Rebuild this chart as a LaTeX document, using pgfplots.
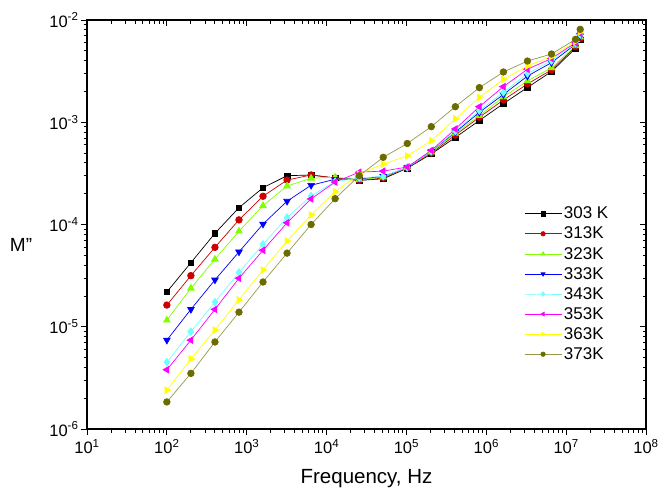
\documentclass[border=0pt]{standalone}
\usepackage{pgfplots}
\usepackage{pgfplotstable}
\pgfplotsset{compat=1.18}
\usetikzlibrary{calc}
\usepackage{fontspec}
\setmainfont{Liberation Sans}

\definecolor{cRed}{HTML}{CC0000}
\definecolor{cLime}{HTML}{80FF00}
\definecolor{cBlue}{HTML}{0000FF}
\definecolor{cCyan}{HTML}{6FFFFF}
\definecolor{cMag}{HTML}{FF00FF}
\definecolor{cYel}{HTML}{FFFF00}
\definecolor{cOlive}{HTML}{6B6B00}

% M'' vs frequency
\pgfplotstableread{
f        T303    T313    T323    T333    T343    T353    T363    T373
100      2.19e-5 1.63e-5 1.16e-5 7.4e-6  4.5e-6  3.8e-6  2.4e-6  1.84e-6
200      4.23e-5 3.16e-5 2.38e-5 1.48e-5 8.95e-6 7.4e-6  4.84e-6 3.5e-6
400      8.2e-5  5.98e-5 4.57e-5 2.87e-5 1.74e-5 1.48e-5 9.3e-6  7.1e-6
800      1.46e-4 1.11e-4 8.6e-5  5.4e-5  3.4e-5  2.98e-5 1.83e-5 1.39e-5
1600     2.29e-4 1.89e-4 1.53e-4 1.01e-4 6.4e-5  5.6e-5  3.6e-5  2.74e-5
3200     3.0e-4  2.72e-4 2.38e-4 1.69e-4 1.17e-4 1.04e-4 6.9e-5  5.25e-5
6400     3.05e-4 3.05e-4 2.83e-4 2.42e-4 1.9e-4  1.78e-4 1.24e-4 1.0e-4
12800    2.85e-4 2.85e-4 2.9e-4  2.77e-4 2.63e-4 2.6e-4  2.09e-4 1.79e-4
25600    2.7e-4  2.7e-4  2.75e-4 2.8e-4  2.85e-4 3.25e-4 3.1e-4  3.0e-4
51200    2.8e-4  2.85e-4 2.9e-4  2.95e-4 2.96e-4 3.33e-4 3.9e-4  4.54e-4
102400   3.55e-4 3.58e-4 3.6e-4  3.6e-4  3.62e-4 3.65e-4 4.68e-4 6.2e-4
204800   4.9e-4  5.0e-4  5.1e-4  5.2e-4  5.2e-4  5.3e-4  6.6e-4  9.06e-4
409600   7.1e-4  7.5e-4  7.8e-4  8.0e-4  8.2e-4  8.6e-4  1.08e-3 1.42e-3
819200   1.04e-3 1.12e-3 1.16e-3 1.25e-3 1.3e-3  1.42e-3 1.75e-3 2.18e-3
1638400  1.52e-3 1.65e-3 1.77e-3 1.87e-3 1.96e-3 2.23e-3 2.63e-3 3.1e-3
3276800  2.19e-3 2.37e-3 2.54e-3 2.83e-3 3.0e-3  3.3e-3  3.55e-3 3.97e-3
6553600  3.13e-3 3.25e-3 3.4e-3  3.83e-3 4.0e-3  4.2e-3  4.4e-3  4.65e-3
13107200 5.3e-3  5.48e-3 5.6e-3  5.8e-3  5.9e-3  6.0e-3  6.2e-3  6.47e-3
15000000 6.4e-3  6.6e-3  6.8e-3  7.0e-3  7.2e-3  7.4e-3  7.7e-3  8.1e-3
}\mdata

\begin{document}
\begin{tikzpicture}
\begin{axis}[name=ax,
    scale only axis, width=559pt, height=409pt,
    xmode=log, ymode=log,
    xmin=1e1, xmax=1e8, ymin=1e-6, ymax=1e-2,
    axis line style={line width=1.1pt},
    major tick length=6pt, minor tick length=3.5pt,
    tick style={black, line width=0.9pt},
    tick align=outside, xtick pos=bottom, ytick pos=left,
    xtick={1e1,1e2,1e3,1e4,1e5,1e6,1e7,1e8},
    xticklabels={10\textsuperscript{1},10\textsuperscript{2},10\textsuperscript{3},10\textsuperscript{4},10\textsuperscript{5},10\textsuperscript{6},10\textsuperscript{7},10\textsuperscript{8}},
    ytick={1e-6,1e-5,1e-4,1e-3,1e-2},
    yticklabels={10\textsuperscript{-6},10\textsuperscript{-5},10\textsuperscript{-4},10\textsuperscript{-3},10\textsuperscript{-2}},
    tick label style={font=\fontsize{16.5}{18}\selectfont},
    xticklabel style={yshift=-1pt},
    yticklabel style={xshift=1pt},
    xlabel={Frequency, Hz},
    xlabel style={font=\fontsize{20.5}{24}\selectfont, at={(axis description cs:0.5,-0.12)}, anchor=center},
    ylabel={M''},
    ylabel style={font=\fontsize{19}{22}\selectfont, rotate=-90, at={(axis description cs:-0.118,0.45)}, anchor=center},
    legend style={draw=none, fill=none, at={(axis description cs:0.78,0.553)}, anchor=north west,
      font=\fontsize{17}{20}\selectfont, row sep=2.7pt, inner xsep=1pt},
    legend cell align=left,
    legend image code/.code={\draw[mark repeat=2,mark phase=2,#1,mark size=2.2pt] plot coordinates {(0cm,0cm) (0.65cm,0cm) (1.3cm,0cm)};},
    every axis plot/.append style={line width=0.7pt, mark size=3.3pt},
]
\addplot[black, mark=square*, mark size=2.8pt] table[x=f, y=T303] {\mdata};
\addlegendentry{303 K}
\addplot[cRed, mark=*] table[x=f, y=T313] {\mdata};
\addlegendentry{313K}
\addplot[cLime, mark=triangle*, mark size=3.8pt] table[x=f, y=T323] {\mdata};
\addlegendentry{323K}
\addplot[cBlue, mark=triangle*, mark size=3.8pt, mark options={rotate=180}] table[x=f, y=T333] {\mdata};
\addlegendentry{333K}
\addplot[cCyan, mark=diamond*, mark size=3.8pt] table[x=f, y=T343] {\mdata};
\addlegendentry{343K}
\addplot[cMag, mark=triangle*, mark size=3.8pt, mark options={rotate=90}] table[x=f, y=T353] {\mdata};
\addlegendentry{353K}
\addplot[cYel, mark=triangle*, mark size=3.8pt, mark options={rotate=-90}] table[x=f, y=T363] {\mdata};
\addlegendentry{363K}
\addplot[cOlive!70!white, mark=*, mark options={fill=cOlive, draw=cOlive}] table[x=f, y=T373] {\mdata};
\addlegendentry{373K}
\end{axis}
\begin{axis}[
    scale only axis, width=559pt, height=409pt,
    xmode=log, ymode=log,
    xmin=1e1, xmax=1e8, ymin=1e-6, ymax=1e-2,
    axis line style={line width=1.1pt},
    major tick length=6pt, minor tick length=3.5pt,
    tick style={black, line width=0.9pt},
    tick align=inside, xtick pos=top, ytick pos=right,
    xtick={1e1,1e2,1e3,1e4,1e5,1e6,1e7,1e8},
    ytick={1e-6,1e-5,1e-4,1e-3,1e-2},
    xticklabels={}, yticklabels={},
]
\end{axis}
\pgfresetboundingbox
\path ($(ax.south west)+(-87pt,-68pt)$) rectangle ($(ax.north east)+(22pt,20pt)$);
\end{tikzpicture}
\end{document}
